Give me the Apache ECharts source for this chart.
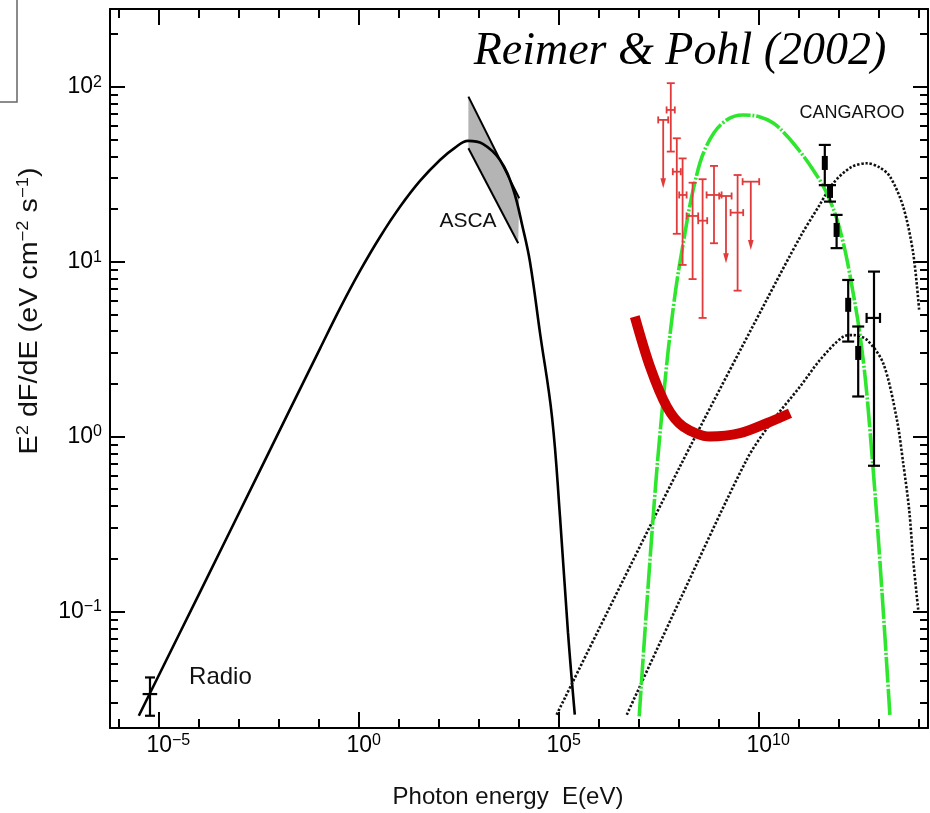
<!DOCTYPE html>
<html><head><meta charset="utf-8">
<script src="https://cdn.jsdelivr.net/npm/echarts@6/dist/echarts.min.js"></script>
<style>html,body{margin:0;padding:0;background:#fff}#c{width:930px;height:813px}</style>
</head><body><div id="c"></div>
<script>
// ---- axis ranges (log10 units) and tick labels ----
const xMin = -6.23, xMax = 14.22, yMin = -1.666, yMax = 2.444;
const xMajor = [-5, 0, 5, 10];
const yMajor = [-1, 0, 1, 2];

// ---- synchrotron curve (log10 E, log10 E^2 dF/dE) ----
const synE = [-5.51, -3.98, -2.48, -0.98, -0.48, 0.02, 0.52, 1.02, 1.52, 2.02, 2.39, 2.72, 3.09, 3.52, 3.84, 4.09, 4.27, 4.52, 4.82, 5.02, 5.22, 5.39];
const synF = [-1.596, -0.889, -0.193, 0.503, 0.733, 0.947, 1.141, 1.313, 1.461, 1.581, 1.65, 1.69, 1.673, 1.581, 1.421, 1.193, 0.998, 0.593, 0.113, -0.458, -1.121, -1.59];

// ---- ASCA bow-tie ----
const ascaUpE = [2.73, 4.0], ascaUpF = [1.943, 1.362];
const ascaLoE = [2.73, 3.975], ascaLoF = [1.648, 1.105];

// ---- inverse Compton (dotted) ----
const icAE = [4.935, 8.02, 10.185, 11.03, 11.5, 11.85, 12.3, 12.69, 13.0, 13.27, 13.6, 13.85, 14.0];
const icAF = [-1.59, -0.171, 0.781, 1.143, 1.32, 1.448, 1.54, 1.562, 1.54, 1.486, 1.314, 1.048, 0.72];
const icBE = [6.69, 8.02, 9.685, 10.3, 11.03, 11.52, 12.1, 12.35, 12.69, 13.1, 13.44, 13.6, 13.75, 13.85, 13.98];
const icBF = [-1.59, -0.933, -0.133, 0.08, 0.288, 0.438, 0.571, 0.58, 0.553, 0.419, 0.1, -0.152, -0.42, -0.705, -1.0];

// ---- pi0 decay (green dash-dot) ----
const pionE = [7.0, 7.35, 7.6, 7.86, 8.1, 8.39, 8.68, 9.1, 9.6, 10.0, 10.35, 10.69, 11.0, 11.35, 11.69, 12.02, 12.35, 12.6, 12.8, 13.02, 13.27];
const pionF = [-1.6, -0.457, 0.21, 0.75, 1.105, 1.45, 1.66, 1.795, 1.838, 1.828, 1.792, 1.72, 1.635, 1.524, 1.39, 1.181, 0.819, 0.438, -0.05, -0.72, -1.6];

// ---- thick red sensitivity curve ----
const sensE = [6.89, 7.27, 7.69, 8.1, 8.77, 9.52, 10.19, 10.77];
const sensF = [0.686, 0.4, 0.171, 0.057, 0.0, 0.019, 0.076, 0.133];

// ---- red points ----
const egE   = [7.6, 7.79, 7.94, 8.085, 8.335, 8.585, 8.87, 9.17, 9.46, 9.79];
const egF   = [1.81, 1.867, 1.514, 1.381, 1.261, 1.234, 1.381, 1.375, 1.28, 1.457];
const egLo  = [1.42, 1.629, 1.159, 0.981, 0.9, 0.678, 1.105, 0.99, 0.834, 1.067];
const egHi  = [1.81, 2.02, 1.705, 1.59, 1.451, 1.471, 1.547, 1.375, 1.495, 1.457];
const egElo = [7.475, 7.685, 7.84, 8.0, 8.185, 8.475, 8.685, 9.0, 9.285, 9.585];
const egEhi = [7.725, 7.89, 8.04, 8.185, 8.475, 8.7, 9.06, 9.31, 9.6, 10.0];
const egUL  = [1, 0, 0, 0, 0, 0, 0, 1, 0, 1];

// ---- CANGAROO points ----
const cgE   = [11.64, 11.77, 11.935, 12.225, 12.475, 12.87];
const cgF   = [1.564, 1.404, 1.181, 0.753, 0.478, 0.678];
const cgLo  = [1.437, 1.343, 1.077, 0.543, 0.229, -0.167];
const cgHi  = [1.667, 1.437, 1.267, 0.895, 0.629, 0.943];
const cgElo = [null, null, null, null, null, 12.685];
const cgEhi = [null, null, null, null, null, 13.02];

// ---- radio point ----
const radE = [-5.23], radF = [-1.472], radLo = [-1.596], radHi = [-1.377], radElo = [-5.415], radEhi = [-5.05];

// ---- text annotations ----
const annText = ['ASCA', 'Radio', 'CANGAROO'];
const annE = [2.72, -3.47, 12.32];
const annF = [1.229, -1.376, 1.85];
const annFont = [21, 24, 18];

// ================= build =================
const FONT = '"Liberation Sans", Arial, Helvetica, sans-serif';
const TXT = '#000';
const zip = (a, b) => a.map((v, i) => [v, b[i]]);
const sup = n => (n < 0 ? '\u2212' + Math.abs(n) : String(n));

const xMinor = [], yMinor = [];
for (let n = Math.ceil(xMin); n <= Math.floor(xMax); n++) if (!xMajor.includes(n)) xMinor.push(n);
for (let n = -2; n <= 2; n++) for (let k = 2; k <= 9; k++) {
  const v = n + Math.log10(k);
  if (v > yMin && v < yMax) yMinor.push(v);
}

const richX = {
  p: { fontSize: 16, color: 'rgba(0,0,0,0)', fontFamily: FONT, verticalAlign: 'top', lineHeight: 16 },
  b: { fontSize: 23, lineHeight: 25, color: TXT, fontFamily: FONT },
  s: { fontSize: 16, lineHeight: 16, verticalAlign: 'top', color: TXT, fontFamily: FONT }
};
function mkAxis(dim, pos, major, withLabel) {
  const vals = major ? (dim === 'x' ? xMajor : yMajor) : (dim === 'x' ? xMinor : yMinor);
  const len = major ? (dim === 'x' ? 16 : 15) : (dim === 'x' ? 9 : 8);
  return {
    type: 'value', position: pos,
    min: dim === 'x' ? xMin : yMin, max: dim === 'x' ? xMax : yMax,
    splitLine: { show: false },
    axisLine: { show: major, onZero: false, lineStyle: { color: '#000', width: 2 } },
    axisTick: { show: true, inside: true, length: len, customValues: vals, lineStyle: { color: '#000', width: 2 } },
    axisLabel: withLabel ? {
      show: true, customValues: vals, margin: dim === 'x' ? 5 : 8,
      formatter: v => {
        const n = Math.round(v);
        return dim === 'x' ? '{p|' + sup(n) + '}{b|10}{s|' + sup(n) + '}' : '{b|10}{s|' + sup(n) + '}';
      },
      rich: richX
    } : { show: false }
  };
}

function errRed(params, api) {
  const i = params.dataIndex;
  const c = api.coord([egE[i], egF[i]]);
  const lo = api.coord([egE[i], egLo[i]]);
  const hi = api.coord([egE[i], egHi[i]]);
  const el = api.coord([egElo[i], egF[i]]);
  const eh = api.coord([egEhi[i], egF[i]]);
  const st = { stroke: '#e03a3a', lineWidth: 1.8, fill: null };
  const L = (x1, y1, x2, y2) => ({ type: 'line', shape: { x1, y1, x2, y2 }, style: st });
  const ch = [L(el[0], c[1], eh[0], c[1]), L(el[0], c[1] - 3.5, el[0], c[1] + 3.5), L(eh[0], c[1] - 3.5, eh[0], c[1] + 3.5)];
  if (egUL[i]) {
    ch.push(L(c[0], c[1], c[0], lo[1] - 8));
    ch.push({ type: 'polygon', shape: { points: [[c[0] - 2.8, lo[1] - 10], [c[0] + 2.8, lo[1] - 10], [c[0], lo[1]]] }, style: { fill: '#e03a3a' } });
  } else {
    ch.push(L(c[0], hi[1], c[0], lo[1]));
    ch.push(L(c[0] - 4, hi[1], c[0] + 4, hi[1]));
    ch.push(L(c[0] - 4, lo[1], c[0] + 4, lo[1]));
  }
  return { type: 'group', children: ch };
}

function errBlack(E, F, LO, HI, ELO, EHI, capW, hcap) {
  return function (params, api) {
    const i = params.dataIndex;
    const c = api.coord([E[i], F[i]]);
    const lo = api.coord([E[i], LO[i]]);
    const hi = api.coord([E[i], HI[i]]);
    const st = { stroke: '#000', lineWidth: 2.2, fill: null };
    const L = (x1, y1, x2, y2) => ({ type: 'line', shape: { x1, y1, x2, y2 }, style: st });
    const ch = [L(c[0], hi[1], c[0], lo[1]), L(c[0] - capW, hi[1], c[0] + capW, hi[1]), L(c[0] - capW, lo[1], c[0] + capW, lo[1])];
    if (ELO[i] != null) {
      const el = api.coord([ELO[i], F[i]]);
      const eh = api.coord([EHI[i], F[i]]);
      ch.push(L(el[0], c[1], eh[0], c[1]));
      if (hcap) {
        ch.push(L(el[0], c[1] - 5, el[0], c[1] + 5));
        ch.push(L(eh[0], c[1] - 5, eh[0], c[1] + 5));
      }
    } else {
      ch.push({ type: 'rect', shape: { x: c[0] - 3, y: c[1] - 7, width: 6, height: 14 }, style: { fill: '#000' } });
    }
    return { type: 'group', children: ch };
  };
}

function ascaFill(params, api) {
  const pts = zip(ascaUpE, ascaUpF).concat(zip(ascaLoE, ascaLoF).reverse()).map(p => api.coord(p));
  return { type: 'polygon', shape: { points: pts }, style: { fill: '#b4b4b4' } };
}

const lineS = (data, style, z, sm) => ({
  type: 'line', data, symbol: 'none', smooth: sm == null ? 0.3 : sm, silent: true, z: z || 2,
  xAxisIndex: 0, yAxisIndex: 0, lineStyle: style, clip: true
});

const option = {
  animation: false,
  backgroundColor: '#fff',
  grid: { left: 110, right: 2, top: 9, bottom: 85, containLabel: false, outerBoundsMode: 'none' },
  xAxis: [mkAxis('x', 'bottom', true, true), mkAxis('x', 'bottom', false, false), mkAxis('x', 'top', true, false), mkAxis('x', 'top', false, false)],
  yAxis: [mkAxis('y', 'left', true, true), mkAxis('y', 'left', false, false), mkAxis('y', 'right', true, false), mkAxis('y', 'right', false, false)],
  series: [
    { type: 'custom', renderItem: ascaFill, data: [[ascaUpE[0], ascaUpF[0]]], z: 1, silent: true },
    lineS(zip(ascaUpE, ascaUpF), { color: '#000', width: 2 }),
    lineS(zip(ascaLoE, ascaLoF), { color: '#000', width: 2 }),
    lineS(zip(synE, synF), { color: '#000', width: 2.6 }, 2, 0.4),
    lineS(zip(icAE, icAF), { color: '#111', width: 2.6, type: [2.4, 1.8] }),
    lineS(zip(icBE, icBF), { color: '#111', width: 2.6, type: [2.4, 1.8] }),
    lineS(zip(pionE, pionF), { color: '#2ee62e', width: 3.6, type: [26, 2, 2, 2] }, 3, 0.4),
    { type: 'custom', renderItem: errBlack(cgE, cgF, cgLo, cgHi, cgElo, cgEhi, 6, true), data: zip(cgE, cgF), z: 4, silent: true },
    { type: 'custom', renderItem: errBlack(radE, radF, radLo, radHi, radElo, radEhi, 5, false), data: zip(radE, radF), z: 4, silent: true },
    { type: 'custom', renderItem: errRed, data: zip(egE, egF), z: 4, silent: true },
    lineS(zip(sensE, sensF), { color: '#cc0000', width: 10, cap: 'butt' }, 5),
    {
      type: 'scatter', symbolSize: 0, silent: true, z: 6,
      itemStyle: { opacity: 1 },
      data: annText.map((t, i) => ({ value: [annE[i], annF[i]], label: { formatter: t, fontSize: annFont[i], color: '#111', opacity: 1 } })),
      label: { show: true, position: 'inside', color: '#111', opacity: 1, fontFamily: FONT, textBorderWidth: 0 }
    }
  ],
  graphic: [
    { type: 'polyline', shape: { points: [[0, 102], [17, 102], [17, 0]] }, style: { stroke: '#666', lineWidth: 1.5, fill: null } },
    { type: 'text', x: 680, y: 52, style: { text: 'Reimer & Pohl (2002)', font: 'italic 46px "Liberation Serif", "DejaVu Serif", serif', fill: '#000', align: 'center', verticalAlign: 'middle' } },
    { type: 'text', x: 508, y: 797, style: { text: 'Photon energy  E(eV)', font: '24px ' + FONT, fill: '#111', align: 'center', verticalAlign: 'middle' } },
    {
      type: 'text', x: 30, y: 311, rotation: Math.PI / 2, scaleX: 1.15,
      style: {
        text: '{a|E}{s|2}{a| dF/dE (eV cm}{s|\u22122}{a| s}{s|\u22121}{a|)}',
        align: 'center', verticalAlign: 'middle', fill: '#111',
        rich: {
          a: { fontSize: 25, lineHeight: 28, fontFamily: FONT, fill: '#111', color: '#111' },
          s: { fontSize: 16, lineHeight: 16, verticalAlign: 'top', fontFamily: FONT, fill: '#111', color: '#111' }
        }
      }
    }
  ]
};

const chart = echarts.init(document.getElementById('c'), null, { renderer: 'canvas' });
chart.setOption(option);
</script>
</body></html>
